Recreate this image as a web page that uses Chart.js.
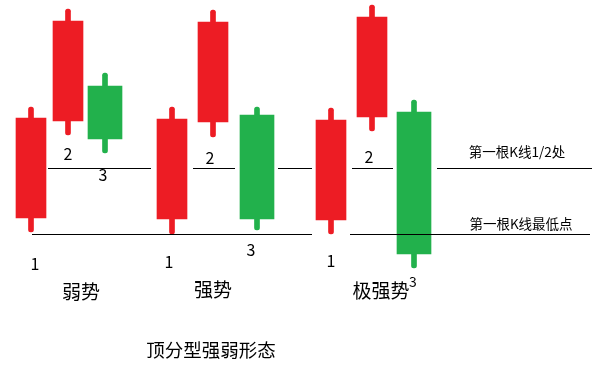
<!DOCTYPE html>
<html><head><meta charset="utf-8">
<script src="https://cdn.jsdelivr.net/npm/chart.js@4/dist/chart.umd.min.js"></script>
<style>html,body{margin:0;padding:0;background:#fff;}#wrap{width:602px;height:374px;}</style>
</head><body><div id="wrap"><canvas id="c" width="602" height="374"></canvas></div>
<script>
// ---- data ----
const groups = ['弱势', '强势', '极强势'];
const candleNames = ['1', '2', '3', '1', '2', '3', '1', '2', '3'];
const candleX = [31, 68, 105, 172, 213, 257, 331, 372, 414];
const opens  = [15.6, 25.3, 28.8, 15.5, 25.2, 25.9, 15.4, 25.7, 26.2];
const closes = [25.6, 35.3, 23.5, 25.5, 35.2, 15.5, 25.4, 35.7, 12.0];
const highs  = [26.7, 36.5, 30.1, 26.7, 36.4, 26.7, 26.6, 36.9, 27.4];
const lows   = [14.2, 23.9, 22.1, 14.0, 23.7, 14.4, 14.0, 24.3, 10.6];
const halfLevel = 20.55;
const lowLevel = 13.95;
const halfLineSegments = [[48, 151], [193, 235], [278, 312], [352, 393], [437, 592]];
const lowLineSegments = [[32, 312], [350, 590]];
const annotations = ['第一根K线1/2处', '第一根K线最低点'];
const chartTitle = '顶分型强弱形态';

// ---- layout ----
const numLabelPos = [[35, 11.0], [68, 22.0], [103, 19.9], [169, 11.2], [210, 21.6], [251, 12.4], [331, 11.3], [369, 21.7], [413, 9.2]];
const groupLabelPos = [[81, 8.2], [213, 8.4], [381, 8.3]];
const annotationPos = [[517, 22.2], [521, 15.0]];
const titlePos = [211, 2.4];

const RED = '#ED1C24', GREEN = '#22B14C';
const isUp = opens.map((o, i) => closes[i] > o);

function segData(segs, level) {
  const out = [];
  segs.forEach((s, i) => {
    if (i > 0) out.push({x: (segs[i-1][1] + s[0]) / 2, y: null});
    out.push({x: s[0], y: level});
    out.push({x: s[1], y: level});
  });
  return out;
}

const redBodies = [], greenBodies = [], redWicks = [], greenWicks = [];
candleX.forEach((x, i) => {
  const body = {x: x, y: [Math.min(opens[i], closes[i]), Math.max(opens[i], closes[i])]};
  const wick = {x: x, y: [lows[i], highs[i]]};
  if (isUp[i]) { redBodies.push(body); redWicks.push(wick); }
  else { greenBodies.push(body); greenWicks.push(wick); }
});

const textPlugin = {
  id: 'texts',
  afterDatasetsDraw(chart) {
    const ctx = chart.ctx, xs = chart.scales.x, ys = chart.scales.y;
    const F = '"Noto Sans CJK SC", "Noto Sans", sans-serif';
    ctx.save();
    ctx.fillStyle = '#000';
    ctx.textAlign = 'center';
    ctx.textBaseline = 'middle';
    candleNames.forEach((t, i) => {
      ctx.font = (i === 8 ? '14px ' : '16px ') + F;
      ctx.fillText(t, xs.getPixelForValue(numLabelPos[i][0]), ys.getPixelForValue(numLabelPos[i][1]));
    });
    ctx.font = '19px ' + F;
    groups.forEach((t, i) => {
      ctx.fillText(t, xs.getPixelForValue(groupLabelPos[i][0]), ys.getPixelForValue(groupLabelPos[i][1]));
    });
    ctx.font = '13.5px ' + F;
    annotations.forEach((t, i) => {
      ctx.fillText(t, xs.getPixelForValue(annotationPos[i][0]), ys.getPixelForValue(annotationPos[i][1]));
    });
    ctx.font = '18.5px ' + F;
    ctx.fillText(chartTitle, xs.getPixelForValue(titlePos[0]), ys.getPixelForValue(titlePos[1]));
    ctx.restore();
  }
};

new Chart(document.getElementById('c'), {
  type: 'bar',
  data: {
    datasets: [
      {type: 'line', data: segData(halfLineSegments, halfLevel), borderColor: '#000', borderWidth: 1, pointRadius: 0, spanGaps: false, order: 0},
      {type: 'line', data: segData(lowLineSegments, lowLevel), borderColor: '#000', borderWidth: 1, pointRadius: 0, spanGaps: false, order: 0},
      {data: redBodies, backgroundColor: RED, barThickness: 30, grouped: false, order: 1, borderWidth: 0},
      {data: greenBodies, backgroundColor: GREEN, barThickness: 34, grouped: false, order: 1, borderWidth: 0},
      {data: redWicks, backgroundColor: RED, barThickness: 5, grouped: false, order: 2, borderRadius: 2.5, borderSkipped: false, borderWidth: 0},
      {data: greenWicks, backgroundColor: GREEN, barThickness: 5, grouped: false, order: 2, borderRadius: 2.5, borderSkipped: false, borderWidth: 0}
    ]
  },
  options: {
    responsive: false,
    animation: false,
    layout: {padding: 0},
    plugins: {legend: {display: false}, tooltip: {enabled: false}, title: {display: false}},
    scales: {
      x: {type: 'linear', min: 0, max: 602, offset: false, display: false},
      y: {type: 'linear', min: 0, max: 37.4, display: false}
    }
  },
  plugins: [textPlugin]
});
</script></body></html>
